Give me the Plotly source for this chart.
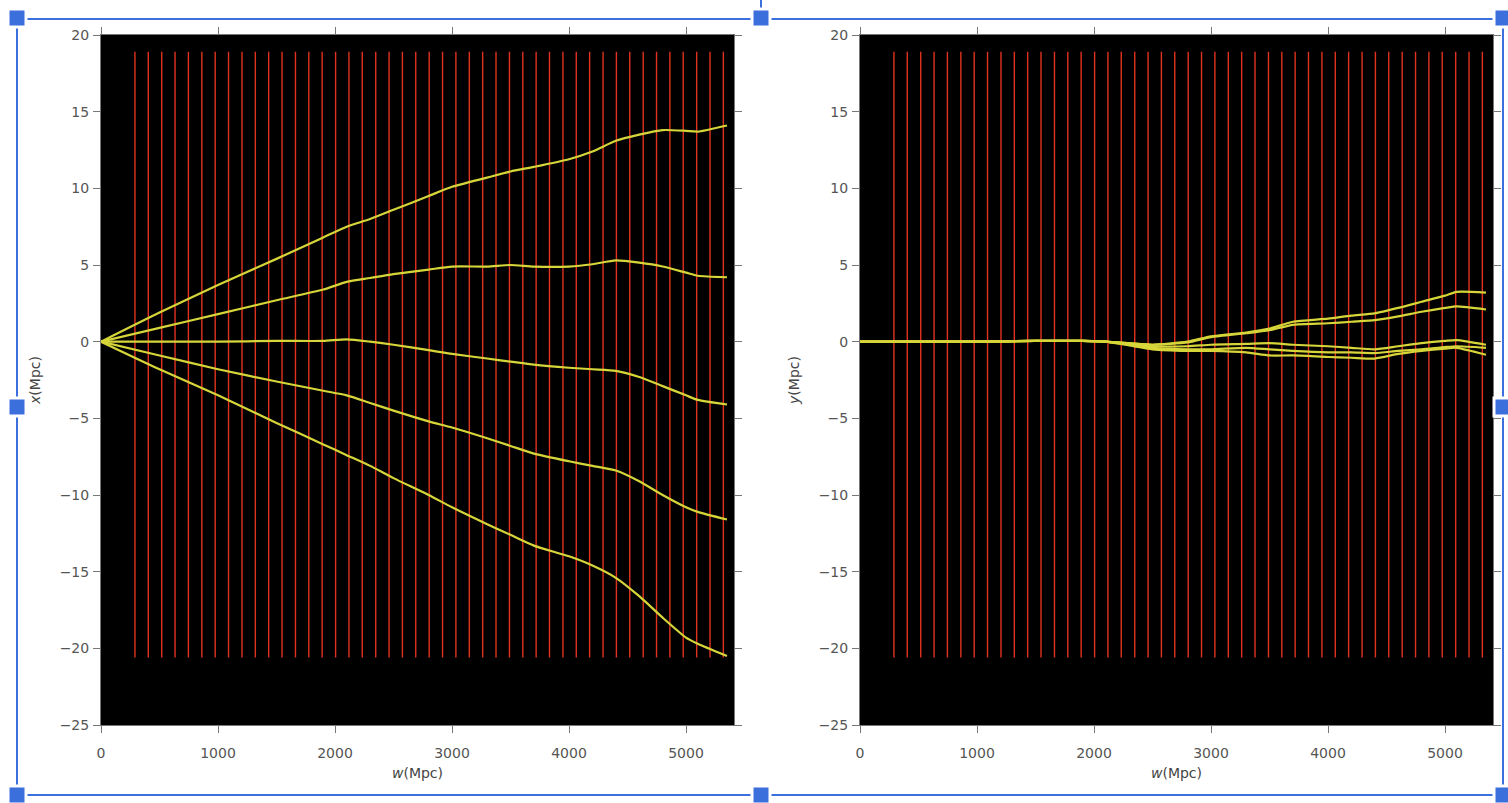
import plotly.graph_objects as go

# ---- data ----
planes_w = [290, 404, 519, 633, 747, 862, 976, 1090, 1205, 1319, 1433, 1547, 1662, 1776,
            1890, 2005, 2119, 2233, 2348, 2462, 2576, 2690, 2805, 2919, 3033, 3148, 3262,
            3376, 3491, 3605, 3719, 3833, 3948, 4062, 4176, 4291, 4405, 4519, 4634, 4748,
            4862, 4976, 5091, 5205, 5319]
plane_ymin = -20.6
plane_ymax = 18.9

ray_w = [0, 500, 1000, 1500, 1900, 2100, 2300, 2500, 2800, 3000, 3300, 3500, 3700, 4000,
         4200, 4400, 4600, 4800, 5000, 5100, 5350]

rays_x = [
    [0, 1.9, 3.7, 5.4, 6.8, 7.5, 8.0, 8.6, 9.5, 10.1, 10.7, 11.1, 11.4, 11.9, 12.4, 13.1, 13.5, 13.8, 13.75, 13.7, 14.1],
    [0, 0.9, 1.8, 2.7, 3.4, 3.9, 4.15, 4.4, 4.7, 4.9, 4.9, 5.0, 4.9, 4.9, 5.05, 5.3, 5.15, 4.9, 4.5, 4.3, 4.2],
    [0, 0, 0, 0.05, 0.05, 0.15, 0.0, -0.2, -0.55, -0.8, -1.1, -1.3, -1.5, -1.7, -1.8, -1.9, -2.3, -2.9, -3.5, -3.8, -4.1],
    [0, -0.9, -1.8, -2.6, -3.2, -3.5, -4.0, -4.5, -5.2, -5.6, -6.3, -6.8, -7.3, -7.8, -8.1, -8.4, -9.1, -10.0, -10.8, -11.1, -11.6],
    [0, -1.8, -3.5, -5.3, -6.7, -7.4, -8.1, -8.9, -10.0, -10.8, -11.9, -12.6, -13.3, -14.0, -14.6, -15.4, -16.6, -18.0, -19.3, -19.7, -20.5],
]
rays_y = [
    [0, 0, 0, 0.05, 0.05, 0, -0.1, -0.2, 0.0, 0.35, 0.6, 0.85, 1.3, 1.5, 1.7, 1.85, 2.2, 2.6, 3.0, 3.25, 3.2],
    [0, 0, 0, 0.05, 0.05, 0, -0.1, -0.2, -0.05, 0.3, 0.55, 0.75, 1.1, 1.2, 1.3, 1.4, 1.65, 1.95, 2.2, 2.3, 2.1],
    [0, 0, 0, 0.05, 0.05, 0, -0.15, -0.3, -0.3, -0.2, -0.15, -0.1, -0.2, -0.3, -0.4, -0.5, -0.3, -0.1, 0.05, 0.1, -0.2],
    [0, 0, 0, 0.05, 0.05, 0, -0.2, -0.4, -0.5, -0.5, -0.4, -0.5, -0.6, -0.7, -0.7, -0.75, -0.6, -0.5, -0.35, -0.3, -0.4],
    [0, 0, 0, 0.05, 0.05, 0, -0.25, -0.5, -0.6, -0.6, -0.7, -0.9, -0.9, -1.0, -1.05, -1.1, -0.8, -0.6, -0.45, -0.4, -0.85],
]

x_ticks = [0, 1000, 2000, 3000, 4000, 5000]
y_ticks = [20, 15, 10, 5, 0, -5, -10, -15, -20, -25]

W, H = 1508, 803
RED = "#e0331f"
YEL = "#d6d63a"
BLUE = "#3b6fdc"

fig = go.Figure()

px_ = lambda v: v / W
py_ = lambda v: 1 - v / H

for i, (xa, ya, rays) in enumerate([("x", "y", rays_x), ("x2", "y2", rays_y)]):
    lx, ly = [], []
    for w in planes_w:
        lx += [w, w, None]
        ly += [plane_ymin, plane_ymax, None]
    fig.add_trace(go.Scatter(x=lx, y=ly, mode="lines", xaxis=xa, yaxis=ya,
                             line=dict(color=RED, width=1.4), showlegend=False, hoverinfo="skip"))
    for r in rays:
        fig.add_trace(go.Scatter(x=ray_w, y=r, mode="lines", xaxis=xa, yaxis=ya,
                                 line=dict(color=YEL, width=2.2, shape="spline", smoothing=0.6),
                                 showlegend=False))

axis_common = dict(showgrid=False, zeroline=False, ticks="outside", ticklen=7, tickwidth=1,
                   tickcolor="#777", showline=True, linecolor="#777", linewidth=1, mirror="ticks",
                   automargin=False,
                   tickfont=dict(family="DejaVu Sans", size=14, color="#555"))
title_font = dict(family="DejaVu Sans", size=14, color="#444")

fig.update_layout(
    width=W, height=H, margin=dict(l=0, r=0, t=0, b=0),
    paper_bgcolor="white", plot_bgcolor="black",
    xaxis=dict(domain=[px_(101), px_(734)], range=[0, 5410], tickvals=x_ticks, anchor="y",
               ticklabelstandoff=8,
               title=dict(text="<i>w</i>(Mpc)", font=title_font, standoff=8), **axis_common),
    yaxis=dict(domain=[py_(725), py_(35)], range=[-25, 20], tickvals=y_ticks, anchor="x",
               ticklabelstandoff=1,
               title=dict(text="<i>x</i>(Mpc)", font=title_font, standoff=15), **axis_common),
    xaxis2=dict(domain=[px_(860), px_(1493)], range=[0, 5410], tickvals=x_ticks, anchor="y2",
                ticklabelstandoff=8,
                title=dict(text="<i>w</i>(Mpc)", font=title_font, standoff=8), **axis_common),
    yaxis2=dict(domain=[py_(725), py_(35)], range=[-25, 20], tickvals=y_ticks, anchor="x2",
                ticklabelstandoff=1,
                title=dict(text="<i>y</i>(Mpc)", font=title_font, standoff=15), **axis_common),
)

# selection frame decoration
shapes = []
def line(x0, y0, x1, y1):
    shapes.append(dict(type="line", xref="paper", yref="paper", x0=px_(x0), y0=py_(y0),
                       x1=px_(x1), y1=py_(y1), line=dict(color=BLUE, width=2)))
def square(cx, cy, s=18):
    shapes.append(dict(type="rect", xref="paper", yref="paper", x0=px_(cx - s / 2), x1=px_(cx + s / 2),
                       y0=py_(cy + s / 2), y1=py_(cy - s / 2), fillcolor=BLUE,
                       line=dict(color="white", width=3)))
line(17, 19, 1503, 19)
line(17, 795, 1503, 795)
line(17, 19, 17, 795)
line(1503, 19, 1503, 795)
line(761, 0, 761, 19)
for cx, cy in [(17, 18), (761, 18), (1503, 18), (17, 407), (1503, 407), (17, 795), (761, 795), (1503, 795)]:
    square(cx, cy)
fig.update_layout(shapes=shapes)

fig.write_html("out.html", config={"displayModeBar": False},
               post_script="document.body.style.margin='0';document.body.style.overflow='hidden';")
